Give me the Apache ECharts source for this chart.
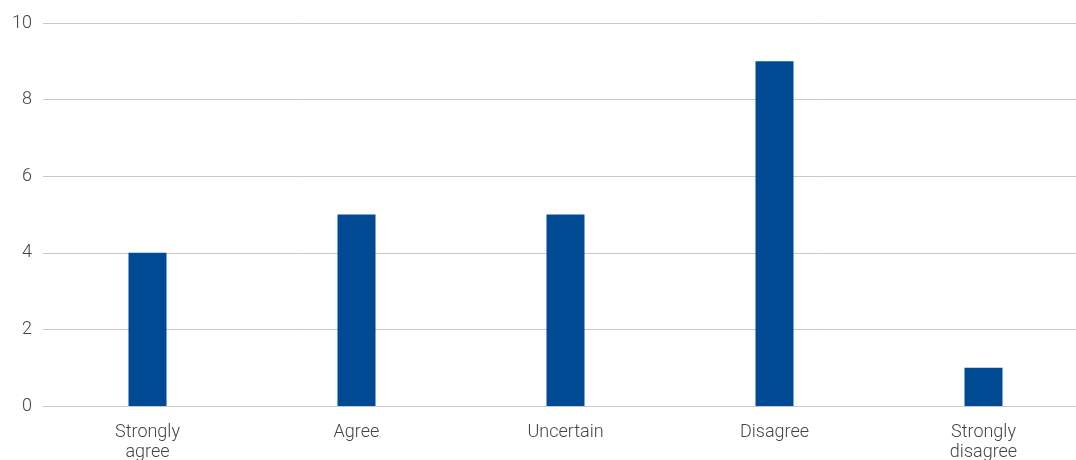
<!DOCTYPE html>
<html>
<head>
<meta charset="utf-8">
<script src="https://cdn.jsdelivr.net/npm/echarts@6/dist/echarts.min.js"></script>
<style>
  html, body { margin: 0; padding: 0; background: #fff; }
  #chart { width: 1076px; height: 460px; }
</style>
</head>
<body>
<div id="chart"></div>
<script>
// Survey response counts
const categories = ['Strongly\nagree', 'Agree', 'Uncertain', 'Disagree', 'Strongly\ndisagree'];
const counts = [4, 5, 5, 9, 1];
const yTicks = { min: 0, max: 10, interval: 2 };

const textStyle = { fontFamily: 'Roboto, "Liberation Sans", sans-serif', fontWeight: 300, fontSize: 18, color: '#444' };

const chart = echarts.init(document.getElementById('chart'), null, { renderer: 'canvas' });
chart.setOption({
  animation: false,
  grid: { left: 43, top: 23, right: -12, bottom: 54, containLabel: false, outerBoundsMode: 'none' },
  xAxis: {
    type: 'category',
    data: categories,
    axisTick: { show: false },
    axisLine: { show: true, lineStyle: { color: '#c8c8c8', width: 1 } },
    axisLabel: Object.assign({ margin: 16, lineHeight: 20, interval: 0 }, textStyle)
  },
  yAxis: {
    type: 'value',
    min: yTicks.min,
    max: yTicks.max,
    interval: yTicks.interval,
    axisLine: { show: false },
    axisTick: { show: false },
    splitLine: { lineStyle: { color: '#c8c8c8', width: 1 } },
    axisLabel: Object.assign({ margin: 11 }, textStyle)
  },
  series: [{
    type: 'bar',
    data: counts,
    barWidth: 38,
    itemStyle: { color: '#004A93' }
  }]
});
</script>
</body>
</html>
